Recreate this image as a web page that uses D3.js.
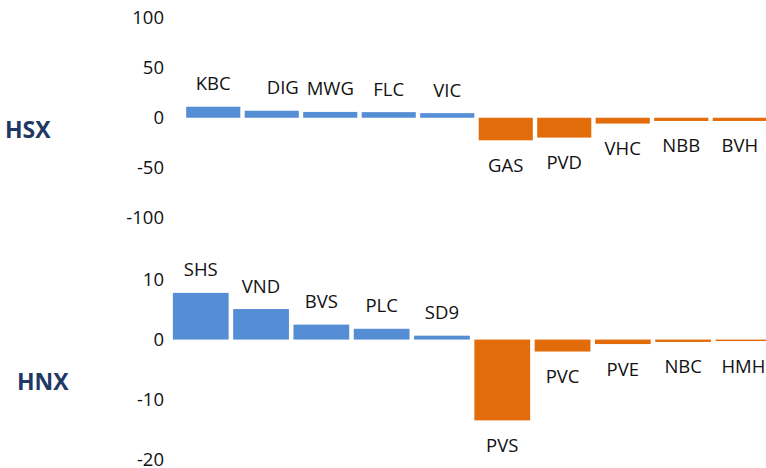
<!DOCTYPE html>
<html>
<head>
<meta charset="utf-8">
<script src="https://cdn.jsdelivr.net/npm/d3@7"></script>
<style>
  body { margin: 0; background: #fff; }
  svg { display: block; font-family: "Open Sans", sans-serif; }
</style>
</head>
<body>
<div id="chart"></div>
<script>
// HSX panel
const hsxCodes = ["KBC", "DIG", "MWG", "FLC", "VIC", "GAS", "PVD", "VHC", "NBB", "BVH"];
const hsxValues = [11, 7, 5.8, 5.6, 4.6, -22.5, -19.8, -5.8, -3.2, -3.2];
const hsxTicks = [100, 50, 0, -50, -100];

// HNX panel
const hnxCodes = ["SHS", "VND", "BVS", "PLC", "SD9", "PVS", "PVC", "PVE", "NBC", "HMH"];
const hnxValues = [7.8, 5.1, 2.5, 1.8, 0.65, -13.5, -2.0, -0.75, -0.4, -0.25];
const hnxTicks = [10, 0, -10, -20];

const width = 766;
const height = 468;
const blue = "#558ED5";
const orange = "#E36C0A";

const svg = d3.select("#chart")
    .append("svg")
    .attr("width", width)
    .attr("height", height);

// label nudged sideways in the original (DIG sits right of its bar)
const labelNudge = { DIG: 11 };

function drawPanel(opts) {
    const data = opts.codes.map((c, i) => ({ code: c, value: opts.values[i] }));

    const x = d3.scaleBand()
        .domain(opts.codes)
        .range(opts.xRange)
        .paddingInner(0.075)
        .paddingOuter(0.0375);

    const y = d3.scaleLinear()
        .domain(opts.yDomain)
        .range(opts.yRange);

    const g = svg.append("g");

    // y axis, labels only (plain hyphen for negatives)
    const axis = g.append("g")
        .attr("transform", "translate(164,0)")
        .call(d3.axisLeft(y)
            .tickValues(opts.ticks)
            .tickFormat(d => String(d))
            .tickSize(0)
            .tickPadding(0));
    axis.select(".domain").remove();
    axis.selectAll("text")
        .attr("font-size", 18.5)
        .attr("font-family", "Open Sans, sans-serif")
        .attr("fill", "#111");

    // bars
    g.selectAll("rect")
        .data(data)
        .join("rect")
        .attr("x", d => x(d.code))
        .attr("width", x.bandwidth())
        .attr("y", d => y(Math.max(0, d.value)))
        .attr("height", d => Math.abs(y(d.value) - y(0)))
        .attr("fill", d => d.value >= 0 ? blue : orange);

    // data labels (stock codes)
    g.selectAll("text.lbl")
        .data(data)
        .join("text")
        .attr("class", "lbl")
        .attr("x", d => x(d.code) + x.bandwidth() / 2 + (labelNudge[d.code] || 0))
        .attr("y", d => d.value >= 0 ? y(d.value) - 23 : y(d.value) + 25)
        .attr("dy", "0.35em")
        .attr("text-anchor", "middle")
        .attr("font-size", 18.5)
        .attr("fill", "#111")
        .text(d => d.code);

    // exchange title
    svg.append("text")
        .attr("x", opts.titleX)
        .attr("y", opts.titleY)
        .attr("dy", "0.35em")
        .attr("font-size", 23)
        .attr("font-weight", "bold")
        .attr("fill", "#1F3864")
        .text(opts.title);
}

drawPanel({
    codes: hsxCodes,
    values: hsxValues,
    ticks: hsxTicks,
    xRange: [184, 769],
    yDomain: [-100, 100],
    yRange: [218, 17.5],
    title: "HSX",
    titleX: 5,
    titleY: 130
});

drawPanel({
    codes: hnxCodes,
    values: hnxValues,
    ticks: hnxTicks,
    xRange: [170.6, 773.6],
    yDomain: [-20, 10],
    yRange: [459.3, 279.7],
    title: "HNX",
    titleX: 17,
    titleY: 382
});
</script>
</body>
</html>
